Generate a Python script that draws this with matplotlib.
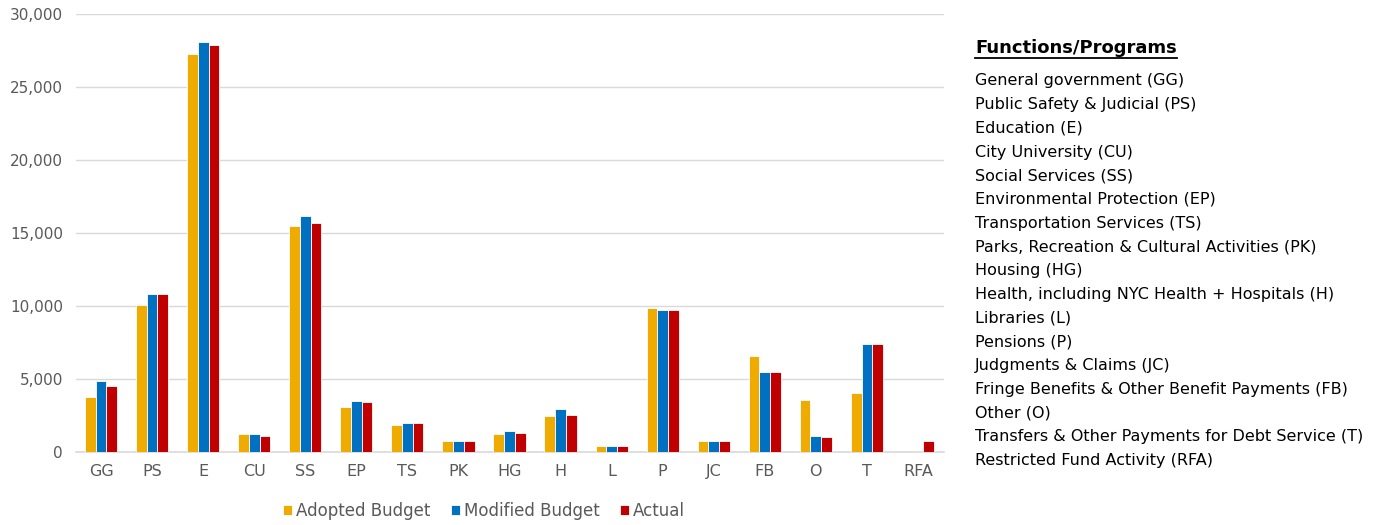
import numpy as np
import matplotlib
matplotlib.use("Agg")
import matplotlib.pyplot as plt
from matplotlib.lines import Line2D
from matplotlib.ticker import FuncFormatter

plt.rcParams['font.family'] = ['DejaVu Sans']

# Categories and budget values (millions)
categories = ['GG', 'PS', 'E', 'CU', 'SS', 'EP', 'TS', 'PK', 'HG',
              'H', 'L', 'P', 'JC', 'FB', 'O', 'T', 'RFA']
adopted = [3770, 10050, 27220, 1190, 15480, 3080, 1850, 710, 1190,
           2430, 410, 9840, 710, 6530, 3560, 4040, 0]
modified = [4820, 10800, 28060, 1190, 16140, 3470, 1970, 710, 1400,
            2900, 410, 9690, 710, 5460, 1080, 7380, 0]
actual = [4520, 10800, 27880, 1100, 15690, 3380, 1970, 710, 1270,
          2510, 410, 9690, 710, 5460, 990, 7380, 710]

series_names = ['Adopted Budget', 'Modified Budget', 'Actual']
colors = ['#F0AB00', '#0070C0', '#C00000']

programs = [
    'General government (GG)',
    'Public Safety & Judicial (PS)',
    'Education (E)',
    'City University (CU)',
    'Social Services (SS)',
    'Environmental Protection (EP)',
    'Transportation Services (TS)',
    'Parks, Recreation & Cultural Activities (PK)',
    'Housing (HG)',
    'Health, including NYC Health + Hospitals (H)',
    'Libraries (L)',
    'Pensions (P)',
    'Judgments & Claims (JC)',
    'Fringe Benefits & Other Benefit Payments (FB)',
    'Other (O)',
    'Transfers & Other Payments for Debt Service (T)',
    'Restricted Fund Activity (RFA)',
]

W, H = 1377, 525
fig = plt.figure(figsize=(W / 100, H / 100), dpi=100)
ax = fig.add_axes([75.5 / W, 1 - 451.7 / H, (943.5 - 75.5) / W, (451.7 - 13.7) / H])

x = np.arange(len(categories))
bw = 0.21
for i, (vals, name, c) in enumerate(zip([adopted, modified, actual], series_names, colors)):
    ax.bar(x + (i - 1) * bw, vals, bw, color=c, edgecolor='white', linewidth=0.6,
           label=name, zorder=3)

ax.set_xlim(-0.5, len(categories) - 0.5)
ax.set_ylim(0, 30000)
ax.set_yticks(range(0, 30001, 5000))
ax.yaxis.set_major_formatter(FuncFormatter(lambda v, p: f'{int(v):,}'))
ax.set_xticks(x)
ax.set_xticklabels(categories)
ax.grid(axis='y', color='#D9D9D9', linewidth=1, zorder=0)
for s in ['top', 'right', 'left']:
    ax.spines[s].set_visible(False)
ax.spines['bottom'].set_color('#D9D9D9')
ax.spines['bottom'].set_linewidth(1.2)
ax.tick_params(axis='y', length=0, labelsize=11, colors='#595959', pad=9)
ax.tick_params(axis='x', length=0, labelsize=11.5, colors='#595959', pad=9)

fig.legend(loc='center', bbox_to_anchor=(484 / W, 1 - 511 / H), ncol=3, frameon=False,
           fontsize=12, handlelength=0.55, handleheight=0.55, handletextpad=0.25,
           columnspacing=1.2, labelcolor='#595959')

# Side panel listing the programs
title = fig.text(975 / W, 1 - 48 / H, 'Functions/Programs', fontsize=13,
                 fontweight='bold', va='center', ha='left', color='black')
fig.canvas.draw()
bb = title.get_window_extent(fig.canvas.get_renderer())
uy = bb.y0 - 1
fig.add_artist(Line2D([bb.x0 / W, bb.x1 / W], [uy / H, uy / H], color='black',
                      linewidth=1.3, transform=fig.transFigure))

for k, txt in enumerate(programs):
    fig.text(975 / W, 1 - (81 + k * 23.7) / H, txt, fontsize=11.5,
             va='center', ha='left', color='black')

fig.savefig('out.png', dpi=100)
